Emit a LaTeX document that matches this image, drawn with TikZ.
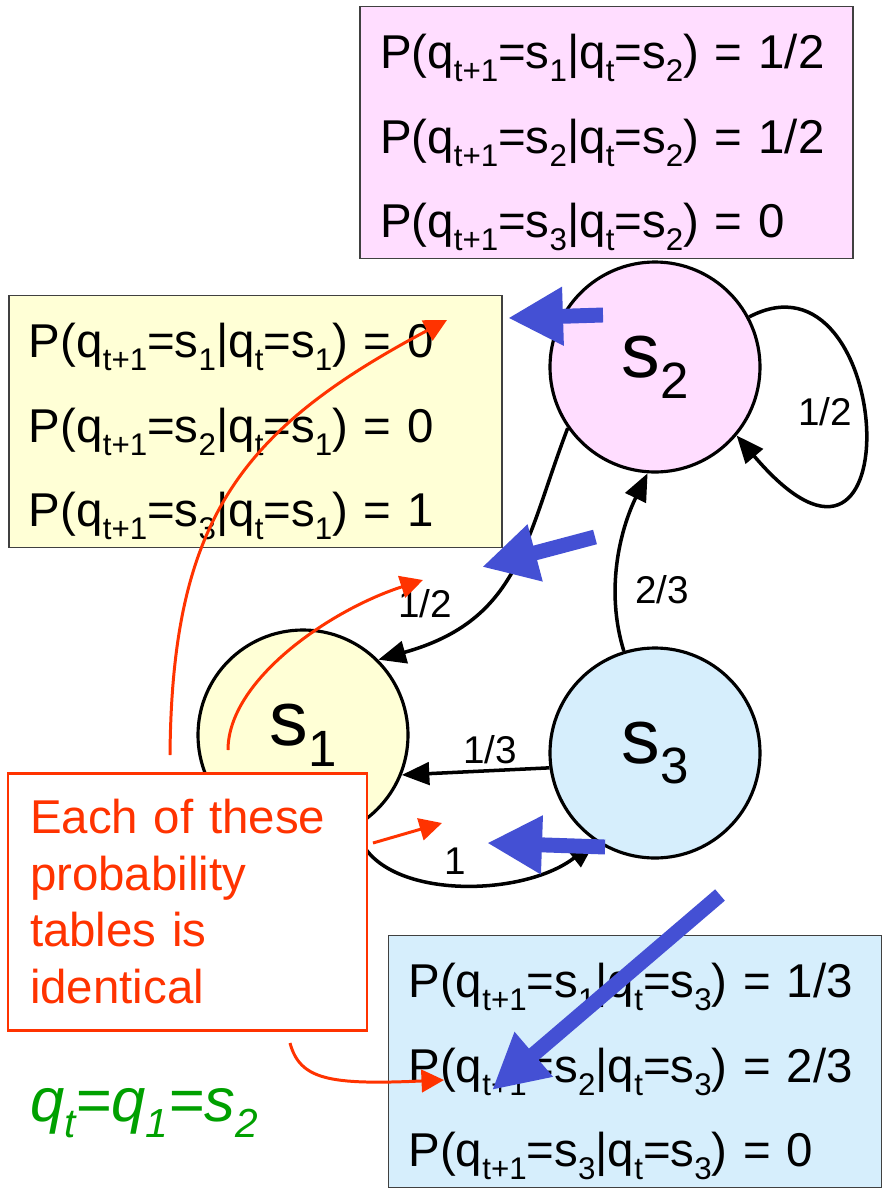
\documentclass[tikz,border=0pt]{standalone}
\usepackage{fontspec}
\setmainfont{Liberation Sans}
\usetikzlibrary{arrows.meta}
\definecolor{StateA}{HTML}{FFFFD6}
\definecolor{StateB}{HTML}{FFDDFF}
\definecolor{StateC}{HTML}{D6EEFC}
\definecolor{NoteRed}{HTML}{FF3300}
\definecolor{PtrBlue}{HTML}{4450D4}
\definecolor{EqGreen}{HTML}{00A000}
\newcommand{\idx}[1]{\raisebox{-0.27em}{\scalebox{0.66}{#1}}}
\newcommand{\trans}[3]{\rule{0pt}{1.15em}P(q\idx{t+1}=s\idx{#1}|q\idx{t}=s\idx{#2}) = #3}

\begin{document}
\begin{tikzpicture}[
  tbl/.style={draw=black!75, line width=1pt, minimum height=5.04cm, text width=9.06cm,
              inner xsep=0.4cm, align=left, font=\fontsize{27}{48}\selectfont},
  state/.style={circle, draw, line width=1.8pt, minimum size=4.2cm, inner sep=0pt,
              font=\fontsize{44}{44}\selectfont},
  tr/.style={line width=2pt, -{Triangle[length=0.55cm, width=0.45cm]}},
  lab/.style={font=\fontsize{22}{22}\selectfont, inner sep=1pt},
  ann/.style={NoteRed, line width=1.7pt, -{Triangle[length=0.45cm, width=0.45cm]}},
  ptr/.style={PtrBlue, line width=8.5pt, -{Triangle[length=1.1cm, width=1.1cm]}}]
\path[use as bounding box, fill=white] (0,0) rectangle (17.64,-23.86);

\node[tbl, fill=StateB] (tab2) at (12.13,-2.65) {\trans{1}{2}{1/2}\\ \trans{2}{2}{1/2}\\ \trans{3}{2}{0}};
\node[tbl, fill=StateA] (tab1) at (5.11,-8.43) {\trans{1}{1}{0}\\ \trans{2}{1}{0}\\ \trans{3}{1}{1}};
\node[tbl, fill=StateC] (tab3) at (12.70,-21.23) {\trans{1}{3}{1/3}\\ \trans{2}{3}{2/3}\\ \trans{3}{3}{0}};

\node[state, fill=StateB] (s2) at (13.1,-7.34) {s\idx{2}};
\node[state, fill=StateA] (s1) at (6.06,-14.7) {s\idx{1}};
\node[state, fill=StateC] (s3) at (13.1,-15.06) {s\idx{3}};

\draw[tr] (s2.28) .. controls (17.9,-4.8) and (18.3,-12.9) .. (s2.-40) node[lab] at (16.5,-8.24) {1/2};
\draw[tr] (s2.215) .. controls (10.5,-10.8) and (10.4,-12.4) .. (s1.45) node[lab] at (8.5,-12.08) {1/2};
\draw[tr] (s3.107) .. controls (12.1,-11.8) and (12.4,-10.6) .. (s2.-94) node[lab] at (13.24,-11.8) {2/3};
\draw[tr] (s3.188) -- (s1.-22) node[lab] at (9.8,-15.0) {1/3};
\draw[tr] (s1.-60) .. controls (7.4,-18.0) and (10.4,-18.0) .. (s3.236) node[lab] at (9.1,-17.22) {1};

\node[draw=NoteRed, line width=1.7pt, fill=white, text=NoteRed, minimum height=5.14cm,
  text width=6.3cm, inner xsep=0.44cm, align=left, font=\fontsize{27}{32.4}\selectfont]
  (note) at (3.75,-18.03) {Each of these\\probability\\tables is\\identical};

\coordinate (n1s) at (3.4,-15.1);
\coordinate (n1e) at (8.94,-6.4);
\coordinate (n2s) at (4.56,-15.0);
\coordinate (n2e) at (8.46,-11.6);
\coordinate (n3s) at (7.46,-16.86);
\coordinate (n3e) at (8.84,-16.46);
\coordinate (n4s) at (5.8,-20.86);
\coordinate (n4e) at (8.88,-21.6);
\draw[ann] (n1s) .. controls (3.44,-10.4) and (4.8,-8.6) .. (n1e);
\draw[ann] (n2s) .. controls (4.56,-13.6) and (6.6,-12.2) .. (n2e);
\draw[ann] (n3s) -- (n3e);
\draw[ann] (n4s) .. controls (6.0,-21.6) and (6.6,-21.7) .. (n4e);

\coordinate (p1s) at (12.06,-6.3);
\coordinate (p1e) at (10.16,-6.36);
\coordinate (p2s) at (11.9,-10.74);
\coordinate (p2e) at (9.64,-11.34);
\coordinate (p3s) at (12.1,-16.94);
\coordinate (p3e) at (9.74,-16.86);
\coordinate (p4s) at (14.4,-17.9);
\coordinate (p4e) at (9.84,-21.8);
\draw[ptr] (p1s) -- (p1e);
\draw[ptr] (p2s) -- (p2e);
\draw[ptr] (p3s) -- (p3e);
\draw[ptr] (p4s) -- (p4e);

\node[font=\fontsize{35}{35}\selectfont\itshape, text=EqGreen, anchor=west, inner sep=0pt]
  (qeq) at (0.6,-22.26) {q\idx{t}=q\idx{1}=s\idx{2}};
\end{tikzpicture}
\end{document}
